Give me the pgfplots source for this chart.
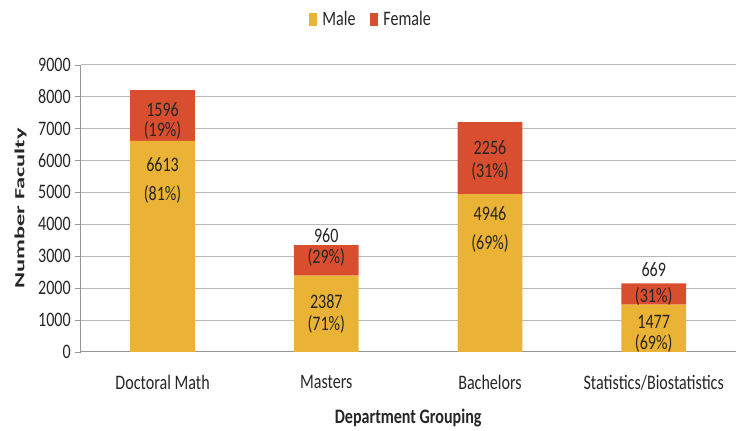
\documentclass[border=0pt]{standalone}
\usepackage{fontspec}
\setmainfont{Carlito}[FakeStretch=0.78]
\newfontfamily\numfont{Carlito}[FakeStretch=0.78]
\newfontfamily\ylabfont{Carlito}[FakeStretch=1.75]
\usepackage{pgfplots}
\pgfplotsset{compat=1.18}
\definecolor{male}{RGB}{235,179,53}
\definecolor{female}{RGB}{217,78,46}
\definecolor{txt}{RGB}{38,38,38}
\definecolor{gridc}{RGB}{185,185,185}
\definecolor{axc}{RGB}{150,150,150}
\newcommand\f{\fontsize{15.5pt}{17pt}\selectfont}
\newcommand\fn{\numfont\fontsize{15.5pt}{17pt}\selectfont}
\begin{document}
\begin{tikzpicture}
\begin{axis}[
  scale only axis,
  width=492.75pt, height=216pt,
  ybar stacked, bar width=48.75pt,
  xmin=-0.5, xmax=3.5, ymin=0, ymax=9000,
  ytick distance=1000,
  xtick={0,1,2,3},
  xticklabels={Doctoral Math,Masters,Bachelors,Statistics/Biostatistics},
  x tick style={draw=none},
  extra x ticks={-0.5,0.5,1.5,2.5,3.5},
  extra x tick labels={},
  extra x tick style={major tick length=5pt, tick align=outside, tick style={draw=axc, thin}, grid=none},
  y tick style={draw=axc, thin},
  major tick length=4pt, tick align=outside,
  ymajorgrids, grid style={gridc, line width=0.6pt},
  axis x line*=bottom, axis y line*=left,
  axis line style={axc, line width=0.6pt, -},
  /pgf/number format/assume math mode=true,
  /pgf/number format/1000 sep={},
  xticklabel style={font=\f, text=txt, yshift=-10pt},
  yticklabel style={font=\fn, text=txt},
  xlabel={\textbf{Department Grouping}},
  ylabel={\ylabfont\bfseries Number Faculty},
  every axis x label/.style={at={(axis description cs:0.5,-0.229)}, anchor=center, font=\f, text=txt},
  every axis y label/.style={at={(axis description cs:-0.092,0.5)}, anchor=center, rotate=90, font=\fontsize{10.5pt}{12pt}\selectfont, text=txt},
  legend style={at={(axis description cs:0.4437,1.157)}, anchor=center, draw=none, fill=none, legend columns=2, font=\f, text=txt,
    /tikz/every even column/.append style={column sep=9pt}},
  legend image code/.code={\fill[#1] (0pt,-4.75pt) rectangle (5.8pt,4.75pt); \path (8pt,0pt);},
  clip=false,
]
\addplot[fill=male, draw=none] coordinates {(0,6613) (1,2387) (2,4946) (3,1477)};
\addplot[fill=female, draw=none] coordinates {(0,1596) (1,960) (2,2256) (3,669)};
\legend{Male,Female}
\coordinate (a1) at (axis cs:0,7594);
\coordinate (a2) at (axis cs:0,6938);
\coordinate (a3) at (axis cs:0,5875);
\coordinate (a4) at (axis cs:0,4938);
\coordinate (b1) at (axis cs:1,3656);
\coordinate (b2) at (axis cs:1,2969);
\coordinate (b3) at (axis cs:1,1563);
\coordinate (b4) at (axis cs:1,875);
\coordinate (c1) at (axis cs:2,6406);
\coordinate (c2) at (axis cs:2,5656);
\coordinate (c3) at (axis cs:2,4344);
\coordinate (c4) at (axis cs:2,3406);
\coordinate (d1) at (axis cs:3,2563);
\coordinate (d2) at (axis cs:3,1750);
\coordinate (d3) at (axis cs:3,938);
\coordinate (d4) at (axis cs:3,250);
\coordinate (bl) at (rel axis cs:0,0);
\coordinate (tr) at (rel axis cs:1,1);
\end{axis}
\tikzset{lab/.style={font=\fn, text=txt, anchor=center, inner sep=0pt}}
\node[lab] at (a1) {1596};
\node[lab] at (a2) {(19\%)};
\node[lab] at (a3) {6613};
\node[lab] at (a4) {(81\%)};
\node[lab] at (b1) {960};
\node[lab] at (b2) {(29\%)};
\node[lab] at (b3) {2387};
\node[lab] at (b4) {(71\%)};
\node[lab] at (c1) {2256};
\node[lab] at (c2) {(31\%)};
\node[lab] at (c3) {4946};
\node[lab] at (c4) {(69\%)};
\node[lab] at (d1) {669};
\node[lab] at (d2) {(31\%)};
\node[lab] at (d3) {1477};
\node[lab] at (d4) {(69\%)};
\path (bl) +(-60.75pt,-56.25pt) (tr) +(1.5pt,48.75pt);
\end{tikzpicture}
\end{document}
